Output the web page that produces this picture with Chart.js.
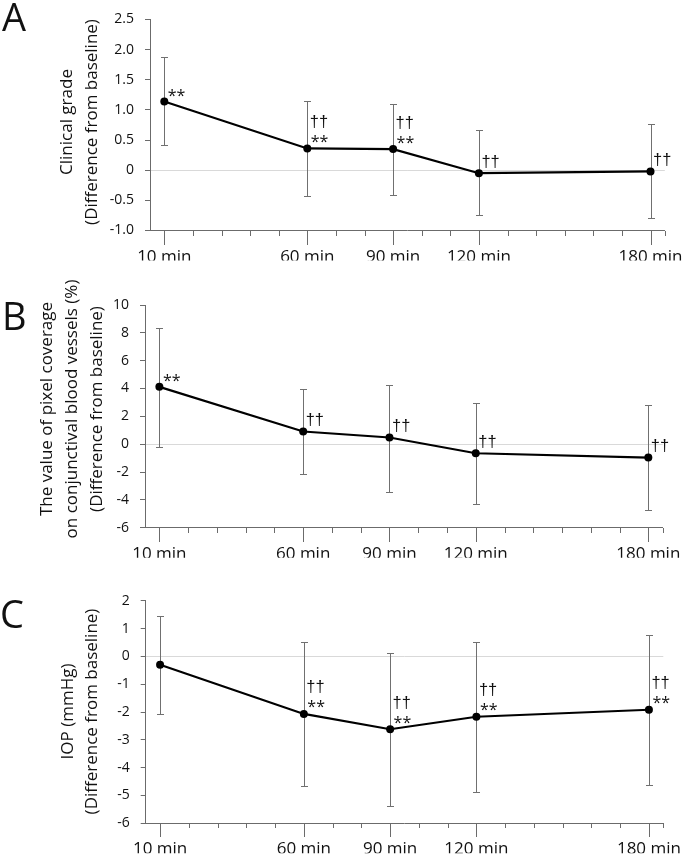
<!DOCTYPE html>
<html><head><meta charset="utf-8">
<script src="https://cdn.jsdelivr.net/npm/chart.js@4.4.1/dist/chart.umd.min.js"></script>
<style>
html,body{margin:0;padding:0;background:#fff}
body{width:685px;height:855px;position:relative;overflow:hidden}
canvas{position:absolute;left:0;top:0}
</style></head><body>
<canvas id="cA" width="685" height="855"></canvas>
<canvas id="cB" width="685" height="855"></canvas>
<canvas id="cC" width="685" height="855"></canvas>
<script>
// ---- data ----
const times = [10, 60, 90, 120, 180];
const timeLabels = ['10 min', '60 min', '90 min', '120 min', '180 min'];
const minorTickTimes = [10,20,30,40,50,60,70,80,90,100,110,120,130,140,150,160,170,180,185];

// A: clinical grade
const gradeMean  = [1.14, 0.36, 0.35, -0.05, -0.02];
const gradeUpper = [1.87, 1.15, 1.10, 0.66, 0.76];
const gradeLower = [0.41, -0.42, -0.41, -0.75, -0.80];
const gradeMarks = [['**'], ['††','**'], ['††','**'], ['††'], ['††']];
const gradeTicks = [-1.0, -0.5, 0, 0.5, 1.0, 1.5, 2.0, 2.5];
const gradeTickLabels = ['-1.0', '-0.5', '0', '0.5', '1.0', '1.5', '2.0', '2.5'];
const gradeTitle = ['Clinical grade', '(Difference from baseline)'];

// B: pixel coverage
const pixelMean  = [4.12, 0.91, 0.48, -0.65, -0.96];
const pixelUpper = [8.38, 4.00, 4.28, 2.99, 2.85];
const pixelLower = [-0.22, -2.16, -3.40, -4.29, -4.74];
const pixelMarks = [['**'], ['††'], ['††'], ['††'], ['††']];
const pixelTicks = [-6, -4, -2, 0, 2, 4, 6, 8, 10];
const pixelTickLabels = ['-6', '-4', '-2', '0', '2', '4', '6', '8', '10'];
const pixelTitle = ['The value of pixel coverage', 'on conjunctival blood vessels (%)', '(Difference from baseline)'];

// C: IOP
const iopMean  = [-0.30, -2.07, -2.62, -2.17, -1.92];
const iopUpper = [1.46, 0.51, 0.13, 0.53, 0.78];
const iopLower = [-2.06, -4.65, -5.37, -4.86, -4.62];
const iopMarks = [[], ['††','**'], ['††','**'], ['††','**'], ['††','**']];
const iopTicks = [-6, -5, -4, -3, -2, -1, 0, 1, 2];
const iopTickLabels = ['-6', '-5', '-4', '-3', '-2', '-1', '0', '1', '2'];
const iopTitle = ['IOP (mmHg)', '(Difference from baseline)'];

// ---- styling ----
const FONT = '"Open Sans", "Noto Sans", sans-serif';
const DAGGER_FONT = '16.5px "Liberation Sans", Arial, sans-serif';
const STAR_FONT = '16px "Open Sans", sans-serif';
const AXIS = '#6b6b6b';
const BAR = '#707070';
const TXT = '#111111';

function makeDecor(p) {
  return {
    id: 'decor',
    beforeDatasetsDraw(chart) {
      const ctx = chart.ctx, xs = chart.scales.x, ys = chart.scales.y;
      ctx.save();
      // error bars
      ctx.strokeStyle = BAR; ctx.lineWidth = 1;
      times.forEach((t, i) => {
        const x = Math.round(xs.getPixelForValue(t)) + 0.5;
        const yt = Math.round(ys.getPixelForValue(p.upper[i])) + 0.5;
        const yb = Math.round(ys.getPixelForValue(p.lower[i])) + 0.5;
        ctx.beginPath();
        ctx.moveTo(x, yt); ctx.lineTo(x, yb);
        ctx.moveTo(x - 3.5, yt); ctx.lineTo(x + 3.5, yt);
        ctx.moveTo(x - 3.5, yb); ctx.lineTo(x + 3.5, yb);
        ctx.stroke();
      });
      // x tick marks
      ctx.strokeStyle = AXIS;
      const yAx = Math.round(chart.chartArea.bottom);
      minorTickTimes.forEach(t => {
        const x = Math.round(xs.getPixelForValue(t)) + 0.5;
        const len = times.includes(t) ? 14 : 5;
        ctx.beginPath(); ctx.moveTo(x, yAx); ctx.lineTo(x, yAx + len); ctx.stroke();
      });
      ctx.restore();
    },
    afterDraw(chart) {
      const ctx = chart.ctx, xs = chart.scales.x, ys = chart.scales.y;
      ctx.save();
      ctx.fillStyle = TXT;
      // significance marks
      ctx.textAlign = 'left'; ctx.textBaseline = 'alphabetic';
      times.forEach((t, i) => {
        const px = xs.getPixelForValue(t), py = ys.getPixelForValue(p.mean[i]);
        const lines = p.marks[i];
        lines.forEach((txt, j) => {
          let target;
          if (lines.length === 2) target = j === 0 ? py - 27 : py - 9.5;
          else target = txt === '**' ? py - 8.5 : py - 12;
          ctx.font = txt === '**' ? STAR_FONT : DAGGER_FONT;
          const m = ctx.measureText(txt);
          const vc = (m.actualBoundingBoxDescent - m.actualBoundingBoxAscent) / 2;
          ctx.fillText(txt, px + 3.5 + m.actualBoundingBoxLeft, target - vc);
        });
      });
      // y titles
      ctx.font = '17px ' + FONT;
      ctx.textAlign = 'center'; ctx.textBaseline = 'middle';
      p.title.forEach((txt, j) => {
        ctx.save();
        ctx.translate(p.titleX[j], p.titleY);
        ctx.rotate(-Math.PI / 2);
        ctx.fillText(txt, 0, 0);
        ctx.restore();
      });
      // panel letter
      ctx.font = '38px ' + FONT;
      ctx.textAlign = 'left'; ctx.textBaseline = 'alphabetic';
      const m = ctx.measureText(p.letter);
      ctx.fillText(p.letter, p.letterLeft + m.actualBoundingBoxLeft, p.letterBase);
      ctx.restore();
    }
  };
}

function makePanel(id, p) {
  new Chart(document.getElementById(id), {
    type: 'line',
    data: {
      datasets: [{
        data: times.map((t, i) => ({x: t, y: p.mean[i]})),
        borderColor: '#000', borderWidth: 2.2, tension: 0,
        pointRadius: 4, pointBackgroundColor: '#000', pointBorderWidth: 0,
        pointHoverRadius: 4, fill: false
      }]
    },
    options: {
      responsive: false, animation: false, events: [],
      layout: {padding: {left: 0, right: 685 - p.area.right, top: p.area.top, bottom: 855 - p.area.bottom - 30}},
      plugins: {legend: {display: false}, tooltip: {enabled: false}, title: {display: false}},
      scales: {
        x: {
          type: 'linear', min: 5, max: 185,
          afterBuildTicks: s => { s.ticks = times.map(v => ({value: v})); },
          afterFit: s => { s.height = 30; },
          ticks: {
            autoSkip: false, maxRotation: 0, padding: 2, color: TXT,
            font: {family: FONT, size: 17},
            callback: v => timeLabels[times.indexOf(v)]
          },
          grid: {drawOnChartArea: false, drawTicks: true, tickLength: 14, tickColor: 'rgba(0,0,0,0)'},
          border: {display: true, color: AXIS, width: 1}
        },
        y: {
          type: 'linear', min: p.ticks[0], max: p.ticks[p.ticks.length - 1],
          afterBuildTicks: s => { s.ticks = p.ticks.map(v => ({value: v})); },
          afterFit: s => { s.width = p.area.left; },
          ticks: {
            padding: 11, color: TXT, font: {family: FONT, size: 14},
            callback: v => p.tickLabels[p.ticks.indexOf(v)]
          },
          grid: {
            drawOnChartArea: true, drawTicks: true, tickLength: 5,
            color: c => (c.tick && c.tick.value === 0) ? '#d9d9d9' : 'rgba(0,0,0,0)',
            tickColor: AXIS
          },
          border: {display: true, color: AXIS, width: 1}
        }
      }
    },
    plugins: [makeDecor(p)]
  });
}

makePanel('cA', {
  mean: gradeMean, upper: gradeUpper, lower: gradeLower, marks: gradeMarks,
  ticks: gradeTicks, tickLabels: gradeTickLabels, title: gradeTitle,
  titleX: [67, 92], titleY: 122, letter: 'A', letterLeft: 2, letterBase: 30.5,
  area: {left: 150, right: 667.7, top: 7.7, bottom: 230.5}
});
makePanel('cB', {
  mean: pixelMean, upper: pixelUpper, lower: pixelLower, marks: pixelMarks,
  ticks: pixelTicks, tickLabels: pixelTickLabels, title: pixelTitle,
  titleX: [47, 72, 97], titleY: 409, letter: 'B', letterLeft: 5, letterBase: 330,
  area: {left: 145, right: 662.7, top: 305, bottom: 527.7}
});
makePanel('cC', {
  mean: iopMean, upper: iopUpper, lower: iopLower, marks: iopMarks,
  ticks: iopTicks, tickLabels: iopTickLabels, title: iopTitle,
  titleX: [68, 92], titleY: 711.5, letter: 'C', letterLeft: 2, letterBase: 627.5,
  area: {left: 145.7, right: 663.3, top: 600.7, bottom: 823.3}
});
</script>
</body></html>
